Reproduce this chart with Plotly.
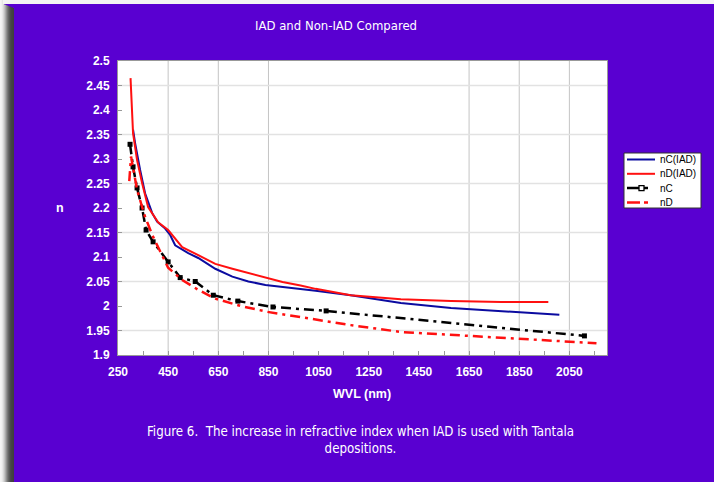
import plotly.graph_objects as go

# ---------------- data ----------------
wl_nc_iad = [310, 318, 338, 358, 386, 406, 438, 458, 478, 530, 570, 638, 706, 770, 838, 906,
             978, 1038, 1178, 1378, 1578, 1778, 2010]
n_nc_iad = [2.36, 2.333, 2.278, 2.23, 2.19, 2.172, 2.158, 2.145, 2.124, 2.108, 2.098, 2.076,
            2.06, 2.05, 2.043, 2.039, 2.036, 2.031, 2.022, 2.006, 1.996, 1.99, 1.982]

wl_nd_iad = [300, 306, 310, 326, 346, 370, 410, 450, 506, 570, 638, 706, 770, 838, 906, 978,
             1038, 1178, 1378, 1578, 1778, 1966]
n_nd_iad = [2.465, 2.40, 2.353, 2.298, 2.251, 2.202, 2.171, 2.155, 2.12, 2.104, 2.086, 2.076,
            2.067, 2.058, 2.049, 2.042, 2.035, 2.022, 2.014, 2.01, 2.008, 2.008]

wl_nc = [298, 310, 326, 346, 362, 390, 450, 498, 558, 630, 728, 868, 1080, 2110]
n_nc = [2.33, 2.284, 2.241, 2.2, 2.155, 2.131, 2.09, 2.058, 2.05, 2.022, 2.01, 1.998, 1.99, 1.939]

wl_nd = [295, 302, 326, 358, 390, 450, 506, 570, 638, 740, 846, 1046, 1178, 1378, 1578, 1778,
         1978, 2158]
n_nd = [2.255, 2.305, 2.237, 2.182, 2.141, 2.078, 2.053, 2.033, 2.015, 2.0, 1.988, 1.971, 1.961,
        1.947, 1.941, 1.935, 1.929, 1.924]

x_grid_lines = [450, 650, 850, 1650, 1850, 2050]
y_grid_lines = [1.95, 2.05, 2.15, 2.25, 2.35, 2.45]

title_text = "IAD and Non-IAD Compared"
caption_text = "Figure 6.  The increase in refractive index when IAD is used with Tantala<br>depositions."
x_title = "WVL (nm)"
y_title = "n"

# ---------------- layout helpers ----------------
W, H = 714, 482
L, R, T, B = 118, 607, 61, 355
PURPLE = "#5900D1"
BLUE = "#0B0BA0"
RED = "#FF1010"
DASHDOT = "10px,5px,3px,5px"


def px(xp):
    return (xp - L) / (R - L)


def py(yp):
    return (B - yp) / (B - T)


series = [
    dict(x=wl_nc_iad, y=n_nc_iad, name="nC(IAD)", color=BLUE, width=2, dash="solid", marker=False),
    dict(x=wl_nd_iad, y=n_nd_iad, name="nD(IAD)", color=RED, width=2, dash="solid", marker=False),
    dict(x=wl_nc, y=n_nc, name="nC", color="black", width=2.5, dash=DASHDOT, marker=True),
    dict(x=wl_nd, y=n_nd, name="nD", color=RED, width=2.5, dash=DASHDOT, marker=False),
]

fig = go.Figure()
for s in series:
    fig.add_trace(go.Scatter(
        x=s["x"], y=s["y"], name=s["name"],
        mode="lines+markers" if s["marker"] else "lines",
        line=dict(color=s["color"], width=s["width"], dash=s["dash"]),
        marker=dict(symbol="square", size=5, color="black"),
        showlegend=False))

shapes = []
annotations = []

# page shadow (left) and light top strip
shapes.append(dict(type="rect", xref="paper", yref="paper", x0=px(-5), x1=px(W + 5),
                   y0=py(4), y1=py(-5), fillcolor="#f4f4f4", line=dict(width=0), layer="below"))
shadow_cols = ["#f4f4f4", "#f0f0f0", "#e6e6e6", "#d6d6d6", "#c2c2c2", "#aaaaaa", "#909090",
               "#787878", "#646464", "#555555", "#4a4a4a", "#444444", "#414141", "#3f3f3f"]
for i, c in enumerate(shadow_cols):
    shapes.append(dict(type="rect", xref="paper", yref="paper", x0=px(i), x1=px(i + 1),
                       y0=py(H + 5), y1=py(-5 if i < 3 else 4 + (i - 3) * 0.4), fillcolor=c,
                       line=dict(width=0), layer="below"))

# gridlines
for g in x_grid_lines:
    shapes.append(dict(type="line", xref="x", yref="paper", x0=g, x1=g, y0=0, y1=1,
                       line=dict(color="#c4c4c4", width=1), layer="below"))
for g in y_grid_lines:
    shapes.append(dict(type="line", xref="paper", yref="y", x0=0, x1=1, y0=g, y1=g,
                       line=dict(color="#e2e2e2", width=1.5), layer="below"))

# legend (box at right of plot)
LX0, LX1, LY0, LY1 = 624, 701, 153, 208
shapes.append(dict(type="rect", xref="paper", yref="paper", x0=px(LX0), x1=px(LX1),
                   y0=py(LY1), y1=py(LY0), fillcolor="white", line=dict(color="#333333", width=1)))
for i, s in enumerate(series):
    yc = 159.5 + i * 14.3
    shapes.append(dict(type="line", xref="paper", yref="paper", x0=px(627), x1=px(655),
                       y0=py(yc), y1=py(yc),
                       line=dict(color=s["color"], width=s["width"],
                                 dash="13px,4px,4px,10px" if s["dash"] != "solid" else "solid")))
    if s["marker"]:
        shapes.append(dict(type="rect", xref="paper", yref="paper", x0=px(639), x1=px(644),
                           y0=py(yc + 2.5), y1=py(yc - 2.5), fillcolor="white",
                           line=dict(color="black", width=1.3)))
    annotations.append(dict(text=s["name"], x=px(658), y=py(yc), xref="paper", yref="paper",
                            showarrow=False, xanchor="left", yanchor="middle",
                            font=dict(family="Liberation Sans, Arial", size=10, color="black")))

tick_font = dict(family="Liberation Sans, Arial", size=12, color="white")

annotations += [
    dict(text=title_text, x=px(336), y=py(25), xref="paper", yref="paper", showarrow=False,
         font=dict(family="DejaVu Sans Condensed", size=13, color="white"),
         xanchor="center", yanchor="middle"),
    dict(text=caption_text, x=px(360), y=py(440), xref="paper", yref="paper", showarrow=False,
         font=dict(family="DejaVu Sans Condensed", size=13.2, color="white"),
         xanchor="center", yanchor="middle", align="center"),
    dict(text="<b>" + x_title + "</b>", x=px(362), y=py(394), xref="paper", yref="paper",
         showarrow=False, font=dict(family="Liberation Sans, Arial", size=12.5, color="white"),
         xanchor="center", yanchor="middle"),
    dict(text="<b>" + y_title + "</b>", x=px(60), y=py(208), xref="paper", yref="paper",
         showarrow=False, font=dict(family="Liberation Sans, Arial", size=12.5, color="white"),
         xanchor="center", yanchor="middle"),
]

fig.update_layout(
    width=W, height=H,
    margin=dict(l=L, r=W - R, t=T, b=H - B, pad=0),
    paper_bgcolor=PURPLE,
    plot_bgcolor="white",
    showlegend=False,
    shapes=shapes,
    annotations=annotations,
    xaxis=dict(range=[250, 2200], tick0=250, dtick=200, showgrid=False, zeroline=False,
               ticks="inside", ticklen=4, tickcolor="#999999", ticklabelstandoff=6,
               tickfont=tick_font, tickprefix="<b>", ticksuffix="</b>",
               showline=True, linecolor="#999999", linewidth=1, mirror=True,
               minor=dict(tick0=250, dtick=100, ticks="inside", ticklen=4, tickcolor="#999999",
                          showgrid=False)),
    yaxis=dict(range=[1.9, 2.5], tick0=1.9, dtick=0.05, showgrid=False, zeroline=False,
               ticks="inside", ticklen=4, tickcolor="#999999", ticklabelstandoff=5,
               tickfont=tick_font, tickprefix="<b>", ticksuffix="</b>", tickformat="~g",
               showline=True, linecolor="#999999", linewidth=1, mirror=True),
)

fig.write_html("out.html",
               config={"displayModeBar": False},
               post_script="document.body.style.margin='0';document.body.style.overflow='hidden';")
